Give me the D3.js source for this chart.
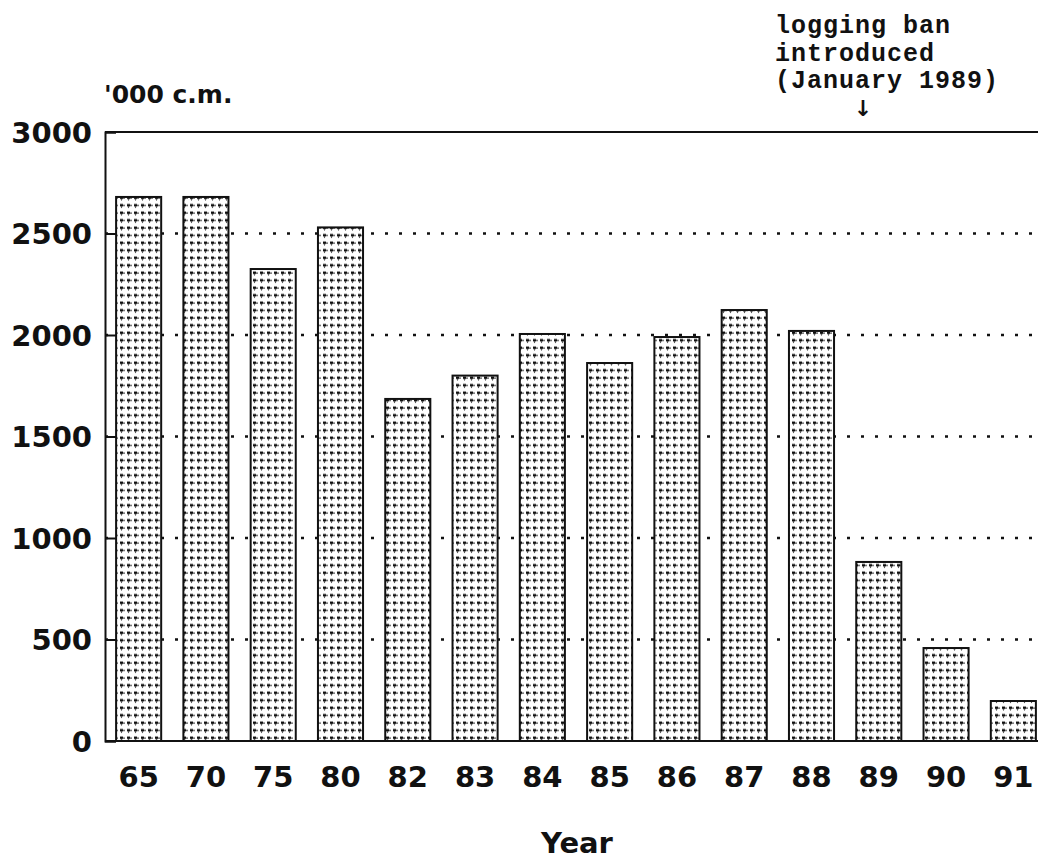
<!DOCTYPE html>
<html>
<head>
<meta charset="utf-8">
<script src="https://cdn.jsdelivr.net/npm/d3@7"></script>
<style>
  html, body { margin: 0; padding: 0; background: #fff; }
  svg { display: block; }
</style>
</head>
<body>
<script>
// ---- data ----
const years = ["65", "70", "75", "80", "82", "83", "84", "85", "86", "87", "88", "89", "90", "91"];
const volumes = [2680, 2680, 2325, 2530, 1685, 1800, 2005, 1862, 1990, 2123, 2020, 882, 458, 197];
const yTicks = [0, 500, 1000, 1500, 2000, 2500, 3000];
const unitLabel = "'000 c.m.";
const xTitle = "Year";
const noteLines = ["logging ban", "introduced", "(January 1989)"];

// ---- layout ----
const W = 1038, H = 861;
const plotLeft = 105, plotRight = 1047, plotTop = 132, plotBottom = 741;

const svg = d3.select("body").append("svg").attr("width", W).attr("height", H);

// stipple pattern for bars
const defs = svg.append("defs");
const pat = defs.append("pattern")
  .attr("id", "stipple").attr("patternUnits", "userSpaceOnUse")
  .attr("width", 7).attr("height", 7.5);
pat.append("rect").attr("width", 7).attr("height", 7.5).attr("fill", "#fff");
pat.append("rect").attr("x", 1).attr("y", 1.5).attr("width", 3).attr("height", 2.5).attr("fill", "#111");
pat.append("rect").attr("x", 4).attr("y", 2.5).attr("width", 2).attr("height", 1).attr("fill", "#222");
pat.append("rect").attr("x", 2).attr("y", 4).attr("width", 1).attr("height", 1.5).attr("fill", "#444");

const x = d3.scaleBand().domain(years).range([plotLeft, plotRight]).paddingInner(0.33).paddingOuter(0.165);
const y = d3.scaleLinear().domain([0, 3000]).range([plotBottom, plotTop]);

// gridlines (dotted)
svg.append("g").selectAll("line")
  .data(yTicks.filter(t => t > 0 && t < 3000))
  .join("line")
  .attr("x1", plotLeft).attr("x2", W)
  .attr("y1", d => y(d)).attr("y2", d => y(d))
  .attr("stroke", "#111").attr("stroke-width", 2.4)
  .attr("stroke-dasharray", "3,11");

// top frame line at 3000
svg.append("line")
  .attr("x1", plotLeft).attr("x2", W).attr("y1", y(3000)).attr("y2", y(3000))
  .attr("stroke", "#111").attr("stroke-width", 2);

// bars
svg.append("g").selectAll("rect")
  .data(years)
  .join("rect")
  .attr("x", d => x(d))
  .attr("width", x.bandwidth())
  .attr("y", (d, i) => y(volumes[i]))
  .attr("height", (d, i) => y(0) - y(volumes[i]))
  .attr("fill", "url(#stipple)")
  .attr("stroke", "#111").attr("stroke-width", 2);

// y axis
const yAxis = d3.axisLeft(y).tickValues(yTicks).tickSize(-11).tickPadding(13).tickFormat(d3.format("d"));
const gy = svg.append("g").attr("transform", `translate(${plotLeft},0)`).call(yAxis);
gy.select(".domain").attr("stroke", "#111").attr("stroke-width", 2);
gy.selectAll(".tick line").attr("stroke", "#111").attr("stroke-width", 2);
gy.selectAll(".tick text")
  .attr("font-family", "DejaVu Sans, sans-serif").attr("font-weight", "bold")
  .attr("font-size", 29).attr("fill", "#111").attr("dy", "0.36em");

// baseline
svg.append("line")
  .attr("x1", plotLeft).attr("x2", W).attr("y1", y(0)).attr("y2", y(0))
  .attr("stroke", "#111").attr("stroke-width", 2.2);

// x axis labels
const xAxis = d3.axisBottom(x).tickSize(0).tickPadding(25);
const gx = svg.append("g").attr("transform", `translate(0,${plotBottom})`).call(xAxis);
gx.select(".domain").remove();
gx.selectAll(".tick text")
  .attr("font-family", "DejaVu Sans, sans-serif").attr("font-weight", "bold")
  .attr("font-size", 29).attr("fill", "#111");

// x title
svg.append("text")
  .attr("x", 577).attr("y", 853)
  .attr("text-anchor", "middle")
  .attr("font-family", "DejaVu Sans, sans-serif").attr("font-weight", "bold")
  .attr("font-size", 29).attr("fill", "#111")
  .text(xTitle);

// unit label
svg.append("text")
  .attr("x", 104).attr("y", 103)
  .attr("font-family", "DejaVu Sans, sans-serif").attr("font-weight", "bold")
  .attr("font-size", 25).attr("fill", "#111")
  .text(unitLabel);

// annotation
const note = svg.append("text")
  .attr("font-family", "Liberation Mono, Courier New, monospace")
  .attr("font-weight", "bold")
  .attr("font-size", 25).attr("letter-spacing", 1).attr("fill", "#111");
noteLines.forEach((t, i) => {
  note.append("tspan").attr("x", 775).attr("y", 33 + i * 27.5).text(t);
});
svg.append("text")
  .attr("x", 863).attr("y", 116)
  .attr("text-anchor", "middle")
  .attr("font-family", "DejaVu Sans, sans-serif")
  .attr("font-size", 22).attr("font-weight", "bold").attr("fill", "#111")
  .text("↓");
</script>
</body>
</html>
